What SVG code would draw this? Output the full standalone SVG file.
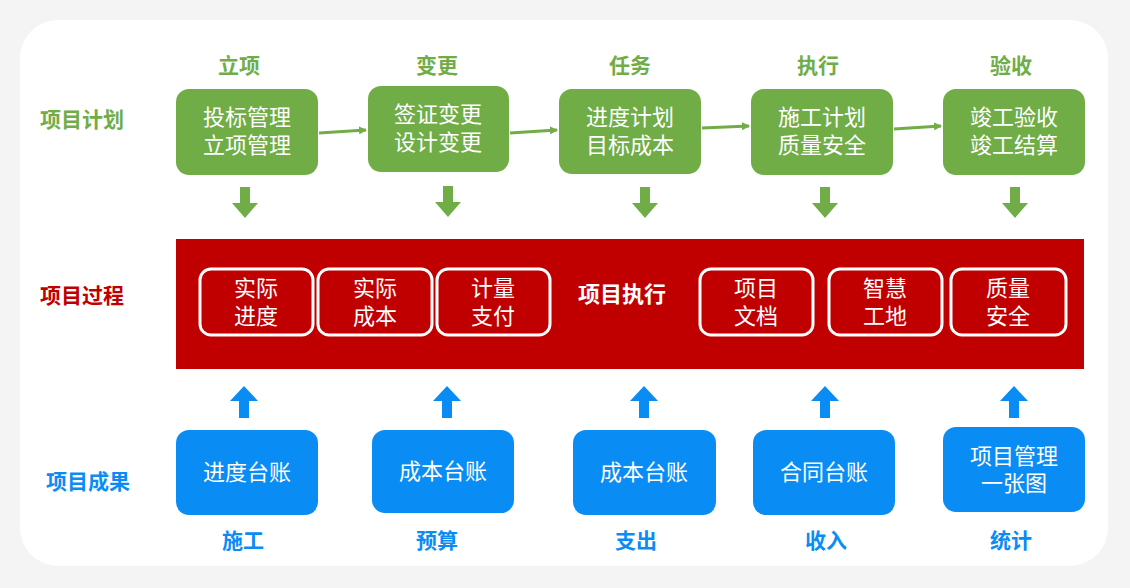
<svg xmlns="http://www.w3.org/2000/svg" width="1130" height="588" viewBox="0 0 1130 588">
<style>
text{font-family:"Noto Sans CJK SC","Liberation Sans",sans-serif;text-anchor:middle}
.g{fill:#70AD47}.b{fill:#0A8CF5}
.wt{fill:#fff;font-size:22px}
.hd{font-size:21px;font-weight:bold}
.ib{fill:none;stroke:#fff;stroke-width:3}
</style>
<defs>
<marker id="ah" markerWidth="8" markerHeight="8" refX="7" refY="4" orient="auto" markerUnits="userSpaceOnUse"><path d="M0,0L8,4L0,8Z" fill="#70AD47"/></marker>
</defs>
<rect width="1130" height="588" fill="#f4f4f4"/>
<rect x="20" y="20" width="1088" height="546" rx="38" fill="#fff"/>
<text x="82" y="127" class="hd g">项目计划</text>
<text x="82" y="303" class="hd" fill="#C00000">项目过程</text>
<text x="88" y="489" class="hd b">项目成果</text>
<g id="headers">
<text x="239" y="73" class="hd g">立项</text>
<text x="437" y="73" class="hd g">变更</text>
<text x="630" y="73" class="hd g">任务</text>
<text x="818" y="73" class="hd g">执行</text>
<text x="1011" y="73" class="hd g">验收</text>
</g>
<g id="plan1"><rect x="176" y="89" width="142" height="86" rx="13" class="g"/><text x="247" y="125" class="wt">投标管理</text><text x="247" y="153" class="wt">立项管理</text></g>
<g id="plan2"><rect x="368" y="86" width="141" height="86" rx="13" class="g"/><text x="438" y="122" class="wt">签证变更</text><text x="438" y="150" class="wt">设计变更</text></g>
<g id="plan3"><rect x="559" y="89" width="142" height="85" rx="13" class="g"/><text x="630" y="125" class="wt">进度计划</text><text x="630" y="153" class="wt">目标成本</text></g>
<g id="plan4"><rect x="751" y="89" width="142" height="86" rx="13" class="g"/><text x="822" y="125" class="wt">施工计划</text><text x="822" y="153" class="wt">质量安全</text></g>
<g id="plan5"><rect x="943" y="89" width="142" height="86" rx="13" class="g"/><text x="1014" y="125" class="wt">竣工验收</text><text x="1014" y="153" class="wt">竣工结算</text></g>
<g id="process">
<rect x="176" y="239" width="908" height="130" fill="#C00000"/>
<rect x="200" y="269" width="113" height="66" rx="11" class="ib"/><text x="256" y="296" class="wt">实际</text><text x="256" y="324" class="wt">进度</text>
<rect x="318" y="269" width="114" height="66" rx="11" class="ib"/><text x="375" y="296" class="wt">实际</text><text x="375" y="324" class="wt">成本</text>
<rect x="437" y="269" width="113" height="66" rx="11" class="ib"/><text x="493" y="296" class="wt">计量</text><text x="493" y="324" class="wt">支付</text>
<text x="622" y="302" class="wt" font-weight="bold">项目执行</text>
<rect x="700" y="269" width="113" height="66" rx="11" class="ib"/><text x="756" y="296" class="wt">项目</text><text x="756" y="324" class="wt">文档</text>
<rect x="829" y="269" width="113" height="66" rx="11" class="ib"/><text x="885" y="296" class="wt">智慧</text><text x="885" y="324" class="wt">工地</text>
<rect x="951" y="269" width="115" height="66" rx="11" class="ib"/><text x="1008" y="296" class="wt">质量</text><text x="1008" y="324" class="wt">安全</text>
</g>
<g id="out1"><rect x="176" y="430" width="142" height="85" rx="13" class="b"/><text x="247" y="480" class="wt">进度台账</text></g>
<g id="out2"><rect x="372" y="430" width="142" height="83" rx="13" class="b"/><text x="443" y="479" class="wt">成本台账</text></g>
<g id="out3"><rect x="573" y="430" width="143" height="85" rx="13" class="b"/><text x="644" y="480" class="wt">成本台账</text></g>
<g id="out4"><rect x="753" y="430" width="142" height="85" rx="13" class="b"/><text x="824" y="480" class="wt">合同台账</text></g>
<g id="out5"><rect x="943" y="427" width="142" height="85" rx="13" class="b"/><text x="1014" y="464" class="wt">项目管理</text><text x="1014" y="491" class="wt">一张图</text></g>
<g id="footers">
<text x="243" y="548" class="hd b">施工</text>
<text x="437" y="548" class="hd b">预算</text>
<text x="636" y="548" class="hd b">支出</text>
<text x="826" y="548" class="hd b">收入</text>
<text x="1011" y="548" class="hd b">统计</text>
</g>
<g id="connectors">
<g stroke="#70AD47" stroke-width="3" marker-end="url(#ah)">
<line x1="319" y1="133" x2="366" y2="130"/>
<line x1="510" y1="133" x2="557" y2="130"/>
<line x1="702" y1="128" x2="749" y2="126"/>
<line x1="894" y1="129" x2="941" y2="126"/>
</g>
<g fill="#70AD47">
<path d="M240,187h10v16h8l-13,15l-13,-15h8z"/>
<path d="M443,186h10v16h8l-13,15l-13,-15h8z"/>
<path d="M640,187h10v16h8l-13,15l-13,-15h8z"/>
<path d="M820,187h10v16h8l-13,15l-13,-15h8z"/>
<path d="M1010,187h10v16h8l-13,15l-13,-15h8z"/>
</g>
<g fill="#0A8CF5">
<path d="M239,418h10v-17h9l-14,-15l-14,15h9z"/>
<path d="M442,418h10v-17h9l-14,-15l-14,15h9z"/>
<path d="M639,418h10v-17h9l-14,-15l-14,15h9z"/>
<path d="M820,418h10v-17h9l-14,-15l-14,15h9z"/>
<path d="M1009,418h10v-17h9l-14,-15l-14,15h9z"/>
</g>
</g>
</svg>
